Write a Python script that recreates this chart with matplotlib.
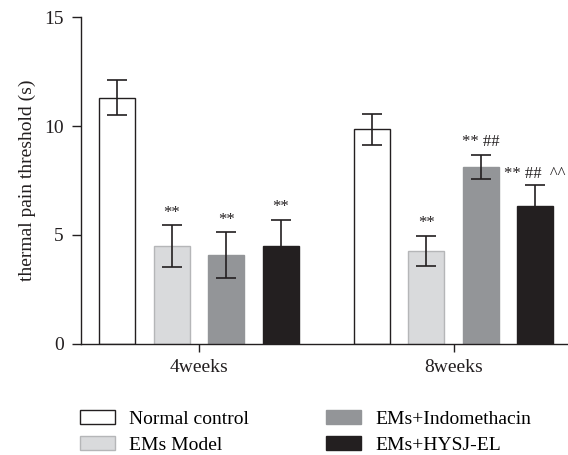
import matplotlib
matplotlib.use("Agg")
import matplotlib.pyplot as plt
import numpy as np
from matplotlib.patches import Patch

groups = ["4weeks", "8weeks"]
series = ["Normal control", "EMs Model", "EMs+Indomethacin", "EMs+HYSJ-EL"]
means = {
    "Normal control": [11.3, 9.85],
    "EMs Model": [4.5, 4.27],
    "EMs+Indomethacin": [4.08, 8.12],
    "EMs+HYSJ-EL": [4.5, 6.33],
}
errs = {
    "Normal control": [0.8, 0.7],
    "EMs Model": [0.95, 0.7],
    "EMs+Indomethacin": [1.05, 0.57],
    "EMs+HYSJ-EL": [1.2, 0.96],
}
annots = {
    "Normal control": ["", ""],
    "EMs Model": ["**", "**"],
    "EMs+Indomethacin": ["**", "** ##"],
    "EMs+HYSJ-EL": ["**", "** ##  ^^"],
}
faces = ["white", "#d9dadc", "#939598", "#231f20"]
edges = ["#231f20", "#b5b6b8", "#939598", "#231f20"]

plt.rcParams['font.family'] = ['Liberation Serif', 'DejaVu Serif']
fig = plt.figure(figsize=(5.68, 4.55), dpi=100)
ax = fig.add_axes([0.1426, 0.244, 0.8574, 0.7186])

x = np.arange(len(groups))
w = 0.1415
step = 0.214
for i, s in enumerate(series):
    pos = x + (i - 1.5) * step
    ax.bar(pos, means[s], width=w, color=faces[i], edgecolor=edges[i], linewidth=1.0, zorder=2)
    ax.errorbar(pos, means[s], yerr=errs[s], fmt='none', ecolor='#231f20', elinewidth=1.2,
                capsize=7.5, capthick=1.2, zorder=3)
    for j, a in enumerate(annots[s]):
        if not a:
            continue
        top = means[s][j] + errs[s][j]
        if a.startswith("** ##  "):
            ax.text(pos[j] - w / 2 - 0.05, top + 0.15, a, ha='left', va='bottom', fontsize=12,
                    color='#231f20', clip_on=False)
        else:
            ax.text(pos[j], top + 0.2, a, ha='center', va='bottom', fontsize=12, color='#231f20')

ax.set_xlim(-0.464, 1.45)
ax.set_ylim(0, 15)
ax.set_yticks([0, 5, 10, 15])
ax.set_xticks(x)
ax.set_xticklabels(groups)
ax.set_ylabel("thermal pain threshold (s)", fontsize=14, labelpad=6, color='#231f20')
ax.tick_params(axis='y', labelsize=14, direction='out', length=6.5, width=1.0, pad=6, colors='#231f20')
ax.tick_params(axis='x', labelsize=14, direction='out', length=6, width=1.0, pad=5, colors='#231f20')
for sp in ['top', 'right']:
    ax.spines[sp].set_visible(False)
for sp in ['left', 'bottom']:
    ax.spines[sp].set_linewidth(1.0)
    ax.spines[sp].set_color('#231f20')

handles = [Patch(facecolor=faces[i], edgecolor=edges[i], label=series[i]) for i in range(4)]
common = dict(loc='upper left', frameon=False, fontsize=14, handlelength=1.8, handleheight=0.72,
              labelspacing=0.45, handletextpad=0.72, borderpad=0, borderaxespad=0)
fig.legend(handles=handles[:2], bbox_to_anchor=(80 / 568, 1 - 410 / 455), **common)
fig.legend(handles=handles[2:], bbox_to_anchor=(326 / 568, 1 - 410 / 455), **common)

fig.savefig("out.png", dpi=100)
